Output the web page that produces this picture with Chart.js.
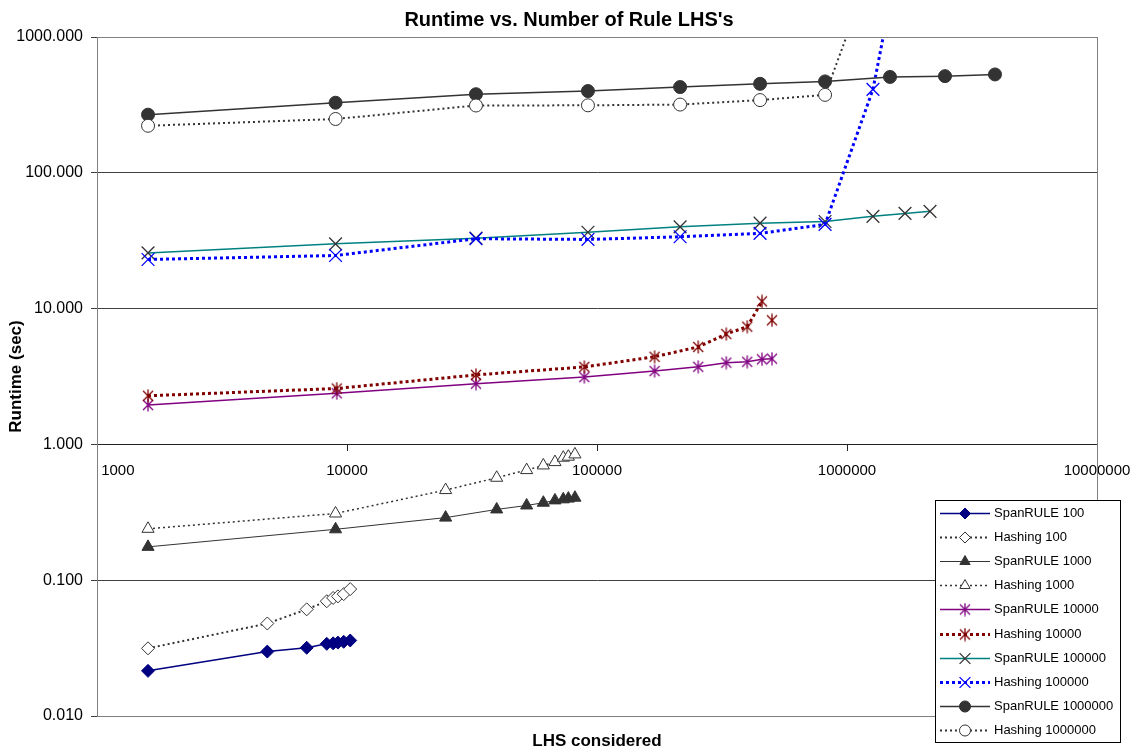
<!DOCTYPE html>
<html>
<head>
<meta charset="utf-8">
<title>Runtime vs. Number of Rule LHS's</title>
<script src="https://cdn.jsdelivr.net/npm/chart.js@4.4.1/dist/chart.umd.min.js"></script>
<style>
    html, body { margin: 0; padding: 0; background: #fff; }
    #runtime-chart { display: block; }
</style>
</head>
<body>
<canvas id="runtime-chart" width="1138" height="752"></canvas>
<script>
// Axis ticks
const xTicks = [1000, 10000, 100000, 1000000, 10000000];
const yTicks = [0.01, 0.1, 1, 10, 100, 1000];

// LHS considered (x) per rule-set size
const lhs100 = [1600, 4800, 6900, 8300, 8800, 9200, 9700, 10300];
const lhs1000 = [1600, 9000, 24800, 39700, 52300, 61000, 67900, 73300, 76800, 81600];
const lhs10000 = [1600, 9100, 32800, 89000, 170000, 254000, 329000, 399000, 457000, 501000];
const lhs100000 = [1600, 9000, 32800, 92000, 215000, 449000, 817000, 1270000, 1706000, 2148000];
const lhs1000000 = [1600, 9000, 32800, 92000, 215000, 449000, 817000, 1486000, 2466000, 3908000];

// Runtime (sec)
const spanRule100 = [0.0215, 0.0298, 0.0318, 0.0340, 0.0343, 0.0347, 0.0352, 0.0360];
const hashing100 = [0.0315, 0.048, 0.061, 0.070, 0.074, 0.076, 0.079, 0.086];
const spanRule1000 = [0.176, 0.237, 0.289, 0.332, 0.355, 0.372, 0.387, 0.394, 0.399, 0.405];
const hashing1000 = [0.239, 0.310, 0.461, 0.568, 0.647, 0.700, 0.741, 0.798, 0.812, 0.844];
const spanRule10000 = [1.95, 2.38, 2.80, 3.13, 3.47, 3.73, 4.00, 4.06, 4.23, 4.28];
const hashing10000 = [2.28, 2.58, 3.25, 3.72, 4.42, 5.22, 6.50, 7.36, 11.3, 8.2];
const spanRule100000 = [25.7, 30.0, 33.0, 36.5, 40.0, 42.6, 43.8, 47.8, 50.2, 52.0];
const hashing100000 = [23.0, 24.6, 32.7, 32.3, 33.8, 35.8, 41.7, 411, 6600];
const spanRule1000000 = [268, 328, 379, 400, 428, 452, 471, 508, 515, 530];
const hashing1000000 = [222, 249, 313, 314, 318, 343, 375, 7500];

const FONT = "'Liberation Sans', Arial, sans-serif";

/**
 * Excel style asterisk marker (X with a vertical bar)
 */
function makeAsterisk(color) {
    const c = document.createElement('canvas');
    c.width = 14;
    c.height = 14;
    const g = c.getContext('2d');
    g.strokeStyle = color;
    g.lineWidth = 1.3;
    g.beginPath();
    g.moveTo(2, 2); g.lineTo(12, 12);
    g.moveTo(12, 2); g.lineTo(2, 12);
    g.moveTo(7, 0.5); g.lineTo(7, 13.5);
    g.stroke();
    return c;
}

function points(xs, ys) {
    return ys.map(function(y, i) { return { x: xs[i], y: y }; });
}

function series(label, xs, ys, style) {
    return Object.assign({
        label: label,
        data: points(xs, ys),
        showLine: true,
        fill: false,
        tension: 0,
        pointBorderWidth: 1,
        pointHoverRadius: 0
    }, style);
}

const purpleStar = makeAsterisk('#800080');
const redStar = makeAsterisk('#800000');

const datasets = [
    series('SpanRULE 100', lhs100, spanRule100, {
        borderColor: '#000080', borderWidth: 1.5,
        pointStyle: 'rectRot', pointRadius: 6.5,
        pointBackgroundColor: '#000080', pointBorderColor: '#000080'
    }),
    series('Hashing 100', lhs100, hashing100, {
        borderColor: '#333333', borderWidth: 2, borderDash: [2, 3],
        pointStyle: 'rectRot', pointRadius: 6.5,
        pointBackgroundColor: '#ffffff', pointBorderColor: '#333333'
    }),
    series('SpanRULE 1000', lhs1000, spanRule1000, {
        borderColor: '#333333', borderWidth: 1,
        pointStyle: 'triangle', pointRadius: 7,
        pointBackgroundColor: '#333333', pointBorderColor: '#333333'
    }),
    series('Hashing 1000', lhs1000, hashing1000, {
        borderColor: '#333333', borderWidth: 1.5, borderDash: [2, 3],
        pointStyle: 'triangle', pointRadius: 7,
        pointBackgroundColor: '#ffffff', pointBorderColor: '#333333'
    }),
    series('SpanRULE 10000', lhs10000, spanRule10000, {
        borderColor: '#800080', borderWidth: 1.5,
        pointStyle: purpleStar, pointRadius: 7
    }),
    series('Hashing 10000', lhs10000, hashing10000, {
        borderColor: '#800000', borderWidth: 3, borderDash: [3, 3],
        pointStyle: redStar, pointRadius: 7,
        // last point is not joined in the original
        segment: {
            borderColor: function(ctx) {
                return ctx.p1DataIndex === hashing10000.length - 1 ? 'rgba(0,0,0,0)' : undefined;
            }
        }
    }),
    series('SpanRULE 100000', lhs100000, spanRule100000, {
        borderColor: '#008080', borderWidth: 1.5,
        pointStyle: 'crossRot', pointRadius: 9, pointBorderWidth: 1.3,
        pointBorderColor: '#333333'
    }),
    series('Hashing 100000', lhs100000, hashing100000, {
        borderColor: '#0000ff', borderWidth: 3, borderDash: [3, 3],
        pointStyle: 'crossRot', pointRadius: 9, pointBorderWidth: 1.3,
        pointBorderColor: '#0000ff'
    }),
    series('SpanRULE 1000000', lhs1000000, spanRule1000000, {
        borderColor: '#333333', borderWidth: 1.5,
        pointStyle: 'circle', pointRadius: 6.5,
        pointBackgroundColor: '#333333', pointBorderColor: '#333333'
    }),
    series('Hashing 1000000', lhs1000000, hashing1000000, {
        borderColor: '#333333', borderWidth: 2, borderDash: [2, 3],
        pointStyle: 'circle', pointRadius: 6.5,
        pointBackgroundColor: '#ffffff', pointBorderColor: '#333333'
    })
];

// later series on top, like the original
datasets.forEach(function(ds, i) { ds.order = datasets.length - i; });

/**
 * Plot area frame
 */
const plotFrame = {
    id: 'plotFrame',
    beforeDatasetsDraw: function(chart) {
        const a = chart.chartArea;
        const ctx = chart.ctx;
        ctx.save();
        ctx.strokeStyle = '#808080';
        ctx.lineWidth = 1;
        ctx.strokeRect(Math.round(a.left) + 0.5, Math.round(a.top) + 0.5,
            Math.round(a.right - a.left), Math.round(a.bottom - a.top));
        ctx.restore();
    }
};

/**
 * Boxed legend sitting over the lower right of the plot
 */
const boxLegend = {
    id: 'boxLegend',
    afterDraw: function(chart) {
        const ctx = chart.ctx;
        const left = 935, top = 500, width = 185, rowH = 24.1;
        const height = rowH * chart.data.datasets.length + 1;
        ctx.save();
        ctx.fillStyle = '#ffffff';
        ctx.fillRect(left, top, width, height);
        ctx.strokeStyle = '#000000';
        ctx.lineWidth = 1;
        ctx.strokeRect(left + 0.5, top + 0.5, width, height);

        chart.data.datasets.forEach(function(ds, i) {
            const y = Math.round(top + 13 + i * rowH) + 0.5;
            ctx.setLineDash(ds.borderDash || []);
            ctx.strokeStyle = ds.borderColor;
            ctx.lineWidth = ds.borderWidth;
            ctx.beginPath();
            ctx.moveTo(left + 5, y);
            ctx.lineTo(left + 55, y);
            ctx.stroke();

            ctx.setLineDash([]);
            ctx.fillStyle = ds.pointBackgroundColor || ds.borderColor;
            ctx.strokeStyle = ds.pointBorderColor || ds.borderColor;
            ctx.lineWidth = ds.pointBorderWidth;
            if (Chart.helpers && Chart.helpers.drawPoint) {
                Chart.helpers.drawPoint(ctx, {
                    pointStyle: ds.pointStyle,
                    rotation: 0,
                    radius: ds.pointRadius * 0.85,
                    borderWidth: ds.pointBorderWidth
                }, left + 30, y);
            }

            ctx.fillStyle = '#000000';
            ctx.font = '13px ' + FONT;
            ctx.textBaseline = 'middle';
            ctx.textAlign = 'left';
            ctx.fillText(ds.label, left + 59, y);
        });
        ctx.restore();
    }
};

function initChart() {
    const ctx = document.getElementById('runtime-chart').getContext('2d');

    Chart.defaults.font.family = FONT;
    Chart.defaults.color = '#000000';

    new Chart(ctx, {
        type: 'scatter',
        data: { datasets: datasets },
        options: {
            responsive: false,
            animation: false,
            events: [],
            layout: { padding: 0 },
            plugins: {
                legend: { display: false },
                tooltip: { enabled: false },
                title: {
                    display: true,
                    text: "Runtime vs. Number of Rule LHS's",
                    color: '#000000',
                    font: { size: 20, weight: 'bold' },
                    padding: { top: 8, bottom: 5 }
                }
            },
            scales: {
                x: {
                    type: 'logarithmic',
                    min: xTicks[0],
                    max: xTicks[xTicks.length - 1],
                    position: { y: 1 },
                    afterBuildTicks: function(axis) {
                        axis.ticks = xTicks.map(function(v) { return { value: v }; });
                    },
                    // last label may hang past the plot, the right strip covers it
                    afterFit: function(axis) { axis.paddingRight = 0; },
                    ticks: {
                        autoSkip: false,
                        maxRotation: 0,
                        padding: 11,
                        font: { size: 15 },
                        callback: function(value, index) {
                            // first label sits right of the axis, as in the original
                            return (index === 0 ? '\u00a0'.repeat(10) : '') + String(value);
                        }
                    },
                    grid: {
                        drawOnChartArea: false,
                        drawTicks: true,
                        tickLength: 6,
                        color: '#222222'
                    },
                    border: { display: true, color: '#222222', width: 1 }
                },
                x2: {
                    type: 'linear',
                    position: 'bottom',
                    grid: { display: false },
                    border: { display: false },
                    ticks: { display: false },
                    title: {
                        display: true,
                        text: 'LHS considered',
                        font: { size: 17, weight: 'bold' },
                        padding: { top: 0, bottom: 0 }
                    },
                    afterFit: function(axis) { axis.height = 36; }
                },
                y: {
                    type: 'logarithmic',
                    min: yTicks[0],
                    max: yTicks[yTicks.length - 1],
                    afterBuildTicks: function(axis) {
                        axis.ticks = yTicks.map(function(v) { return { value: v }; });
                    },
                    ticks: {
                        autoSkip: false,
                        padding: 8,
                        font: { size: 16 },
                        callback: function(value) { return Number(value).toFixed(3); }
                    },
                    grid: {
                        color: '#404040',
                        tickLength: 6
                    },
                    border: { display: true, color: '#222222', width: 1 },
                    title: {
                        display: true,
                        text: 'Runtime (sec)',
                        font: { size: 17, weight: 'bold' },
                        padding: { top: 6, bottom: 0 }
                    },
                    afterFit: function(axis) { axis.width = 97; }
                },
                // empty right-hand strip so the plot ends where the original does
                yRight: {
                    type: 'linear',
                    position: 'right',
                    grid: { display: false },
                    border: { display: false },
                    ticks: { display: false },
                    afterFit: function(axis) { axis.width = 41; }
                }
            }
        },
        plugins: [plotFrame, boxLegend]
    });
}

initChart();
</script>
</body>
</html>
